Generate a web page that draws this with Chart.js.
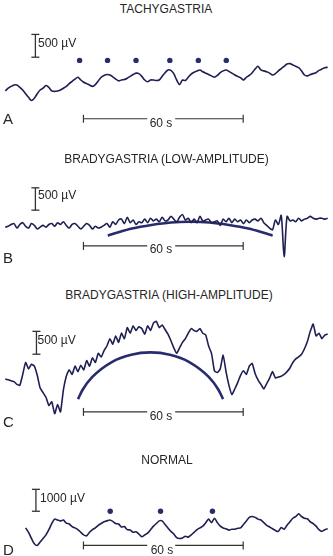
<!DOCTYPE html>
<html><head><meta charset="utf-8">
<script src="https://cdn.jsdelivr.net/npm/chart.js@4.4.1/dist/chart.umd.min.js"></script>
<style>
html,body{margin:0;padding:0;background:#fff;}
#wrap{position:relative;width:333px;height:556px;overflow:hidden;font-family:"Liberation Sans",Arial,Helvetica,sans-serif;color:#262626;}
#wrap canvas{position:absolute;left:0;}
.lbl{position:absolute;white-space:nowrap;line-height:1;font-size:12px;transform:translateY(-50%);}
.ctr{transform:translate(-50%,-50%);}
.big{font-size:15px;}
</style></head><body><div id="wrap"></div>
<script>
// ---------- DATA ----------
const panelTitles = ['TACHYGASTRIA','BRADYGASTRIA (LOW-AMPLITUDE)','BRADYGASTRIA (HIGH-AMPLITUDE)','NORMAL'];
const panelLetters = ['A','B','C','D'];
const scaleBarLabels = ['500 \u00b5V','500 \u00b5V','500 \u00b5V','1000 \u00b5V'];
const scaleBarUV = [500,500,500,1000];
const timeBarLabel = '60 s';
const timeBarSeconds = 60;
const SECONDS_PER_SAMPLE = 60/55;     // trace sampling interval (s)
const RECORD_SECONDS = 121.09;        // width of each strip (s)

// trace amplitudes (µV), one sample every SECONDS_PER_SAMPLE
const traceA_uV = [-240,-180,-140,-110,-110,-160,-220,-300,-380,-450,
 -400,-300,-220,-180,-120,-160,-240,-250,-240,-220,
 -180,-140,-80,-30,20,60,0,-50,-80,-110,
 -140,-100,-20,60,100,120,110,70,20,-20,
 0,10,40,80,120,150,140,80,0,-40,
 0,0,-10,0,80,160,220,210,140,0,
 -100,0,-10,60,130,170,200,220,180,150,
 120,90,60,100,160,200,220,190,150,110,
 80,50,0,60,100,160,240,300,220,200,
 180,150,110,140,200,250,300,350,360,330,
 300,270,200,110,90,120,140,160,210,240,
 270,280];
const traceB_uV = [-60,-40,0,20,-80,0,40,-40,-80,20,
 -20,-100,-60,-20,-60,0,20,-40,40,0,
 60,-20,-80,0,20,-40,-100,-40,20,-20,
 -100,-40,-80,-60,-20,20,-60,60,0,100,
 120,20,160,40,100,0,60,40,120,40,
 140,80,120,60,160,80,100,180,120,60,
 160,220,100,140,40,120,40,180,80,100,
 120,40,60,80,-20,120,60,140,40,120,
 60,100,20,100,40,100,120,80,140,40,
 -20,-80,-120,100,0,200,-720,180,80,100,
 60,140,80,120,140,180,140,120,140,140,
 120,140];
const traceC_uV = [0,-20,-40,-60,-120,-140,100,360,220,320,
 280,80,-200,-300,-400,-580,-500,-760,-560,-720,
 -240,60,200,100,280,160,300,200,400,280,
 460,360,560,480,620,720,880,760,940,800,
 1000,880,1120,1000,1160,1060,1140,1100,980,1160,
 1060,1220,1260,1120,1180,1080,980,840,680,560,
 680,800,880,1000,1100,1060,1040,1100,1000,960,
 720,560,180,140,220,520,160,-140,-340,-220,
 -80,80,180,100,280,340,120,-20,-120,-220,
 -100,20,160,20,40,60,100,160,240,360,
 440,480,540,660,820,1040,1200,940,1000,880,
 960,980];
const traceD_uV = [null,null,null,null,null,null,null,
 -1000,-1200,-1480,-1720,-1800,-1640,-1480,-1320,-1080,-800,
 -600,-640,-680,-640,-780,-820,-940,-1000,-1080,-1200,
 -1320,-1360,-1200,-1080,-1000,-880,-800,-720,-680,-640,
 -700,-800,-820,-960,-940,-1080,-1100,-1200,-1180,-1280,
 -1400,-1320,-1240,-1080,-920,-800,-680,-680,-840,-1000,
 -1160,-1280,-1440,-1480,-1460,-1380,-1420,-1320,-1200,-1080,
 -1000,-920,-760,-600,-760,-560,-760,-920,-1000,-1040,
 -1100,-1060,-1060,-1020,-1000,-840,-680,-520,-480,-520,
 -600,-640,-760,-880,-960,-1040,-1120,-1160,-980,-1060,
 -880,-720,-560,-480,-360,-480,-560,-580,-720,-800,
 -920,-1080,-1160,-1080,-1040];

// slow-wave markers (dots) : times (s) and level (µV)
const dotsA_s = [27.9,38.4,49.1,61.8,72.5,83.0];
const dotsA_uV = 430;
const dotsD_s = [39.4,58.3,77.8];
const dotsD_uV = -240;

// bradygastria cycle arcs
const arcB_s  = [38.5,42.2,47.6,54.9,62.2,69.5,76.7,84.0,91.3,96.7,100.4];
const arcB_uV = [-250,-180,-90,-10,45,60,45,-10,-90,-180,-250];
const arcC_s  = [27.3,29.1,32.7,40.0,47.3,54.5,61.8,69.1,76.4,80.0,81.8];
const arcC_uV = [-440,-230,45,370,530,580,530,370,45,-230,-440];

// calibration bars: time (s) and bottom of voltage bar (µV), time-bar level (µV)
const scaleBarTime_s = [11.3,11.3,11.7,11.5];
const scaleBarBottom_uV = [500,320,540,-240];
const timeBarStart_s = 29.35;
const timeBarLevel_uV = [-850,-480,-720,-1800];

// ---------- LAYOUT / STYLE ----------
const layout = [
 {top:20,  height:120, zeroPx:80,  uvPerPx:20, title:[166,9],   uv:[38,43],   tlab:[161,122.7], letter:[3,118]},
 {top:170, height:100, zeroPx:225, uvPerPx:20, title:[166.5,159], uv:[38,195], tlab:[161,249], letter:[3,257]},
 {top:305, height:125, zeroPx:380, uvPerPx:20, title:[169,295], uv:[37.5,340], tlab:[161,416], letter:[3,421]},
 {top:470, height:86,  zeroPx:505, uvPerPx:40, title:[167,460], uv:[40,498],   tlab:[162,550], letter:[3,549]}
];
const TRACE_COLOR = '#1e1f52';
const MARK_COLOR = '#282b6c';
const BAR_COLOR = '#333333';
const traceTension = [0.25,0.3,0.15,0.25];

const traces = [traceA_uV,traceB_uV,traceC_uV,traceD_uV];
const dots = [{s:dotsA_s,v:dotsA_uV},null,null,{s:dotsD_s,v:dotsD_uV}];
const arcs = [null,{s:arcB_s,v:arcB_uV},{s:arcC_s,v:arcC_uV},null];

const wrap = document.getElementById('wrap');
function addText(txt, x, y, cls){
  const d = document.createElement('div');
  d.className = 'lbl ' + (cls||'');
  d.textContent = txt;
  d.style.left = x + 'px';
  d.style.top = y + 'px';
  wrap.appendChild(d);
}

layout.forEach((L, i) => {
  const c = document.createElement('canvas');
  c.width = 333; c.height = L.height;
  c.style.width = '333px'; c.style.height = L.height + 'px';
  c.style.top = L.top + 'px';
  wrap.appendChild(c);
  const yMax = (L.zeroPx - L.top) * L.uvPerPx;
  const yMin = (L.zeroPx - L.top - L.height) * L.uvPerPx;
  const ds = [];
  ds.push({data: traces[i].map((v,k)=>({x:k*SECONDS_PER_SAMPLE, y:v})),
    borderColor: TRACE_COLOR, borderWidth: 1.6, pointRadius: 0, tension: traceTension[i],
    borderJoinStyle:'round', clip: false});
  if (arcs[i]) ds.push({data: arcs[i].s.map((t,k)=>({x:t, y:arcs[i].v[k]})),
    borderColor: MARK_COLOR, borderWidth: 2.6, pointRadius: 0, cubicInterpolationMode:'monotone', clip:false});
  if (dots[i]) ds.push({data: dots[i].s.map(t=>({x:t, y:dots[i].v})), showLine:false,
    pointRadius: 2.7, pointBackgroundColor: MARK_COLOR, pointBorderColor: MARK_COLOR, pointBorderWidth:0, clip:false});
  // voltage calibration bar
  const t0 = scaleBarTime_s[i], b0 = scaleBarBottom_uV[i];
  ds.push({data:[{x:t0,y:b0},{x:t0,y:b0+scaleBarUV[i]}], borderColor:BAR_COLOR, borderWidth:1.3,
    pointStyle:'line', pointRadius:4, pointBorderColor:BAR_COLOR, pointBorderWidth:1.3, clip:false});
  // time calibration bar (two segments around label)
  const lv = timeBarLevel_uV[i], tEnd = timeBarStart_s + timeBarSeconds;
  ds.push({data:[{x:timeBarStart_s,y:lv},{x:53.3,y:lv}], borderColor:BAR_COLOR, borderWidth:1.2,
    pointStyle:'line', pointRotation:90, pointRadius:[4,0], pointBorderColor:BAR_COLOR, pointBorderWidth:1.2, clip:false});
  ds.push({data:[{x:63.8,y:lv},{x:tEnd,y:lv}], borderColor:BAR_COLOR, borderWidth:1.2,
    pointStyle:'line', pointRotation:90, pointRadius:[0,4], pointBorderColor:BAR_COLOR, pointBorderWidth:1.2, clip:false});
  new Chart(c, {type:'line', data:{datasets:ds}, options:{
    responsive:false, animation:false, events:[], devicePixelRatio:1,
    layout:{padding:0},
    plugins:{legend:{display:false}, tooltip:{enabled:false}, title:{display:false}},
    scales:{x:{type:'linear', display:false, min:0, max:RECORD_SECONDS},
            y:{type:'linear', display:false, min:yMin, max:yMax}}
  }});
  addText(panelTitles[i], L.title[0], L.title[1], 'ctr');
  addText(scaleBarLabels[i], L.uv[0], L.uv[1]);
  addText(timeBarLabel, L.tlab[0], L.tlab[1], 'ctr');
  addText(panelLetters[i], L.letter[0], L.letter[1], 'big');
});
</script></body></html>
